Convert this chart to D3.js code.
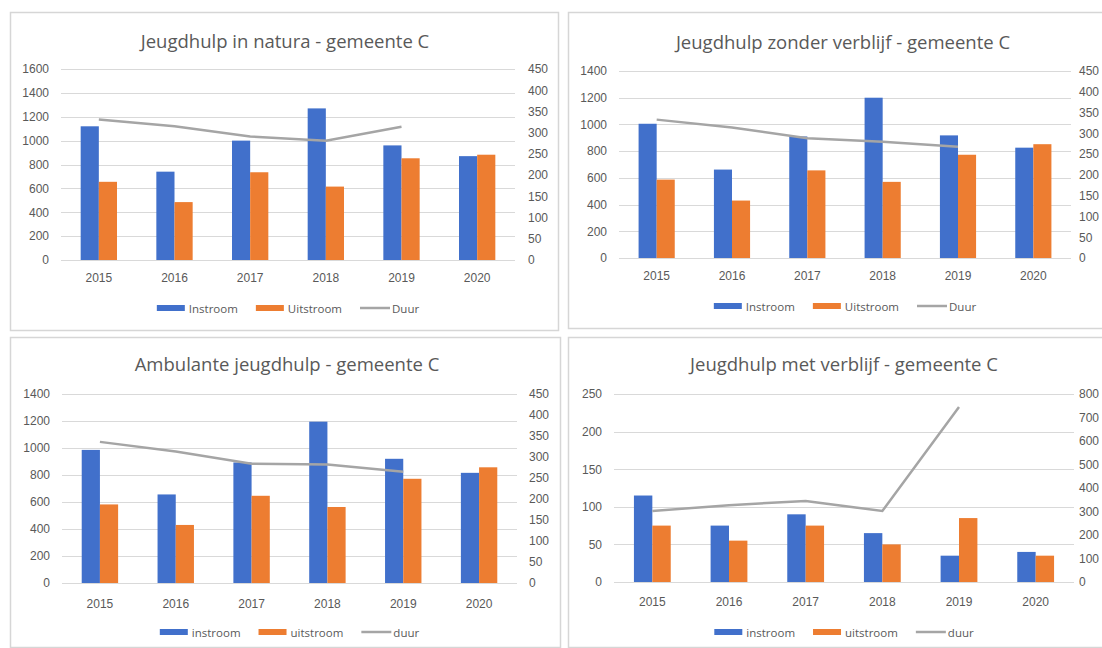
<!DOCTYPE html>
<html>
<head>
<meta charset="utf-8">
<script src="https://cdn.jsdelivr.net/npm/d3@7"></script>
<style>
  body { margin: 0; background: #fff; }
  svg { display: block; font-family: "Open Sans", sans-serif; }
</style>
</head>
<body>
<script>
// categories
var years = ["2015", "2016", "2017", "2018", "2019", "2020"];

// jeugdhulp in natura
var naturaIn = [1120, 740, 1000, 1270, 960, 870];
var naturaUit = [655, 485, 735, 615, 852, 882];
var naturaDuur = [331, 315, 291, 281, 314];

// jeugdhulp zonder verblijf
var zonderIn = [1005, 662, 910, 1200, 918, 826];
var zonderUit = [587, 430, 656, 570, 773, 852];
var zonderDuur = [333, 314, 288, 280, 268];

// ambulante jeugdhulp
var ambIn = [986, 656, 893, 1195, 920, 816];
var ambUit = [582, 430, 646, 563, 772, 857];
var ambDuur = [336, 313, 284, 282, 265];

// jeugdhulp met verblijf
var metIn = [115, 75, 90, 65, 35, 40];
var metUit = [75, 55, 75, 50, 85, 35];
var metDuur = [302, 327, 345, 302, 745];

// axis ticks
var ticks1600 = [0, 200, 400, 600, 800, 1000, 1200, 1400, 1600];
var ticks1400 = [0, 200, 400, 600, 800, 1000, 1200, 1400];
var ticks250 = [0, 50, 100, 150, 200, 250];
var ticks450 = [0, 50, 100, 150, 200, 250, 300, 350, 400, 450];
var ticks800 = [0, 100, 200, 300, 400, 500, 600, 700, 800];

var blue = "#4170CB", orange = "#ED7D31", grey = "#A5A5A5";
var textCol = "#595959";
var fmt = d3.format("d");

var svg = d3.select("body").append("svg")
    .attr("width", 1102)
    .attr("height", 648);

// draw one combo chart
function drawPanel(p) {
    var g = svg.append("g");

    // frame
    g.append("rect")
        .attr("x", p.box[0] + 0.5).attr("y", p.box[1] + 0.5)
        .attr("width", p.box[2]).attr("height", p.box[3])
        .attr("fill", "#fff")
        .attr("stroke", "#d6d6d6")
        .attr("stroke-width", 1.5);

    var x = d3.scaleBand()
        .domain(years)
        .range([p.left, p.right])
        .paddingInner(0.52)
        .paddingOuter(0.26);

    var yL = d3.scaleLinear().domain([0, p.leftMax]).range([p.bottom, p.top]);
    var yR = d3.scaleLinear().domain([0, p.rightMax]).range([p.bottom, p.top]);

    // grid
    g.append("g").selectAll("line")
        .data(p.leftTicks)
        .enter().append("line")
        .attr("x1", p.left).attr("x2", p.right)
        .attr("y1", function(d) { return Math.round(yL(d)) + 0.5; })
        .attr("y2", function(d) { return Math.round(yL(d)) + 0.5; })
        .attr("stroke", "#d9d9d9")
        .attr("stroke-width", 1);

    // left axis
    var leftAxis = d3.axisLeft(yL).tickValues(p.leftTicks).tickFormat(fmt).tickSize(0).tickPadding(12);
    var la = g.append("g").attr("transform", "translate(" + p.left + ",0)").call(leftAxis);
    la.select(".domain").remove();
    la.selectAll("text").attr("fill", textCol).style("font-size", "12px");

    // right axis
    var rightAxis = d3.axisRight(yR).tickValues(p.rightTicks).tickFormat(fmt).tickSize(0).tickPadding(p.rightPad);
    var ra = g.append("g").attr("transform", "translate(" + p.right + ",0)").call(rightAxis);
    ra.select(".domain").remove();
    ra.selectAll("text").attr("fill", textCol).style("font-size", "12px");

    // x axis
    var xAxis = d3.axisBottom(x).tickSize(0).tickPadding(p.xPad);
    var xa = g.append("g").attr("transform", "translate(0," + p.bottom + ")").call(xAxis);
    xa.select(".domain").remove();
    xa.selectAll("text").attr("fill", textCol).style("font-size", "12px");

    var bw = x.bandwidth() / 2;

    // bars
    g.append("g").selectAll("rect")
        .data(p.inflow)
        .enter().append("rect")
        .attr("x", function(d, i) { return x(years[i]); })
        .attr("y", function(d) { return yL(d); })
        .attr("width", bw)
        .attr("height", function(d) { return yL(0) - yL(d); })
        .attr("fill", blue);

    g.append("g").selectAll("rect")
        .data(p.outflow)
        .enter().append("rect")
        .attr("x", function(d, i) { return x(years[i]) + bw; })
        .attr("y", function(d) { return yL(d); })
        .attr("width", bw)
        .attr("height", function(d) { return yL(0) - yL(d); })
        .attr("fill", orange);

    // duur line
    var line = d3.line()
        .x(function(d, i) { return x(years[i]) + x.bandwidth() / 2; })
        .y(function(d) { return yR(d); });

    g.append("path")
        .datum(p.duration)
        .attr("d", line)
        .attr("fill", "none")
        .attr("stroke", grey)
        .attr("stroke-width", 2.5);

    // title
    g.append("text")
        .attr("x", p.titleX)
        .attr("y", p.titleY)
        .attr("text-anchor", "middle")
        .attr("dominant-baseline", "central")
        .attr("fill", textCol)
        .style("font-size", "18.5px")
        .text(p.title);

    // legend
    var lg = g.append("g");
    var items = [
        {name: p.names[0], col: blue, type: "rect"},
        {name: p.names[1], col: orange, type: "rect"},
        {name: p.names[2], col: grey, type: "line"}
    ];
    var cx = 0;
    items.forEach(function(it) {
        if (it.type == "rect") {
            lg.append("rect").attr("x", cx).attr("y", -3).attr("width", 28).attr("height", 6).attr("fill", it.col);
        } else {
            lg.append("line").attr("x1", cx).attr("x2", cx + 30).attr("y1", 0).attr("y2", 0)
                .attr("stroke", it.col).attr("stroke-width", 2.5);
        }
        cx += 32;
        var t = lg.append("text")
            .attr("x", cx).attr("y", 0)
            .attr("dominant-baseline", "central")
            .attr("fill", textCol)
            .style("font-size", "11.5px")
            .text(it.name);
        cx += t.node().getComputedTextLength() + 18;
    });
    cx -= 18;
    lg.attr("transform", "translate(" + ((p.left + p.right) / 2 - cx / 2) + "," + p.legendY + ")");
}

drawPanel({
    box: [10, 12, 548, 318],
    left: 61, right: 515, top: 69, bottom: 260,
    leftMax: 1600, leftTicks: ticks1600,
    rightMax: 450, rightTicks: ticks450, rightPad: 13,
    xPad: 13, titleX: 285, titleY: 40, legendY: 308,
    title: "Jeugdhulp in natura - gemeente C",
    inflow: naturaIn, outflow: naturaUit, duration: naturaDuur,
    names: ["Instroom", "Uitstroom", "Duur"]
});

drawPanel({
    box: [568, 12, 545, 316],
    left: 619, right: 1071, top: 71, bottom: 258,
    leftMax: 1400, leftTicks: ticks1400,
    rightMax: 450, rightTicks: ticks450, rightPad: 8,
    xPad: 13, titleX: 843, titleY: 41, legendY: 306,
    title: "Jeugdhulp zonder verblijf - gemeente C",
    inflow: zonderIn, outflow: zonderUit, duration: zonderDuur,
    names: ["Instroom", "Uitstroom", "Duur"]
});

drawPanel({
    box: [10, 337, 550, 310],
    left: 62, right: 517, top: 394, bottom: 583,
    leftMax: 1400, leftTicks: ticks1400,
    rightMax: 450, rightTicks: ticks450, rightPad: 12,
    xPad: 16, titleX: 287, titleY: 363, legendY: 632,
    title: "Ambulante jeugdhulp - gemeente C",
    inflow: ambIn, outflow: ambUit, duration: ambDuur,
    names: ["instroom", "uitstroom", "duur"]
});

drawPanel({
    box: [568, 337, 545, 310],
    left: 614, right: 1074, top: 394, bottom: 582,
    leftMax: 250, leftTicks: ticks250,
    rightMax: 800, rightTicks: ticks800, rightPad: 5,
    xPad: 15, titleX: 844, titleY: 363, legendY: 632,
    title: "Jeugdhulp met verblijf - gemeente C",
    inflow: metIn, outflow: metUit, duration: metDuur,
    names: ["instroom", "uitstroom", "duur"]
});
</script>
</body>
</html>
